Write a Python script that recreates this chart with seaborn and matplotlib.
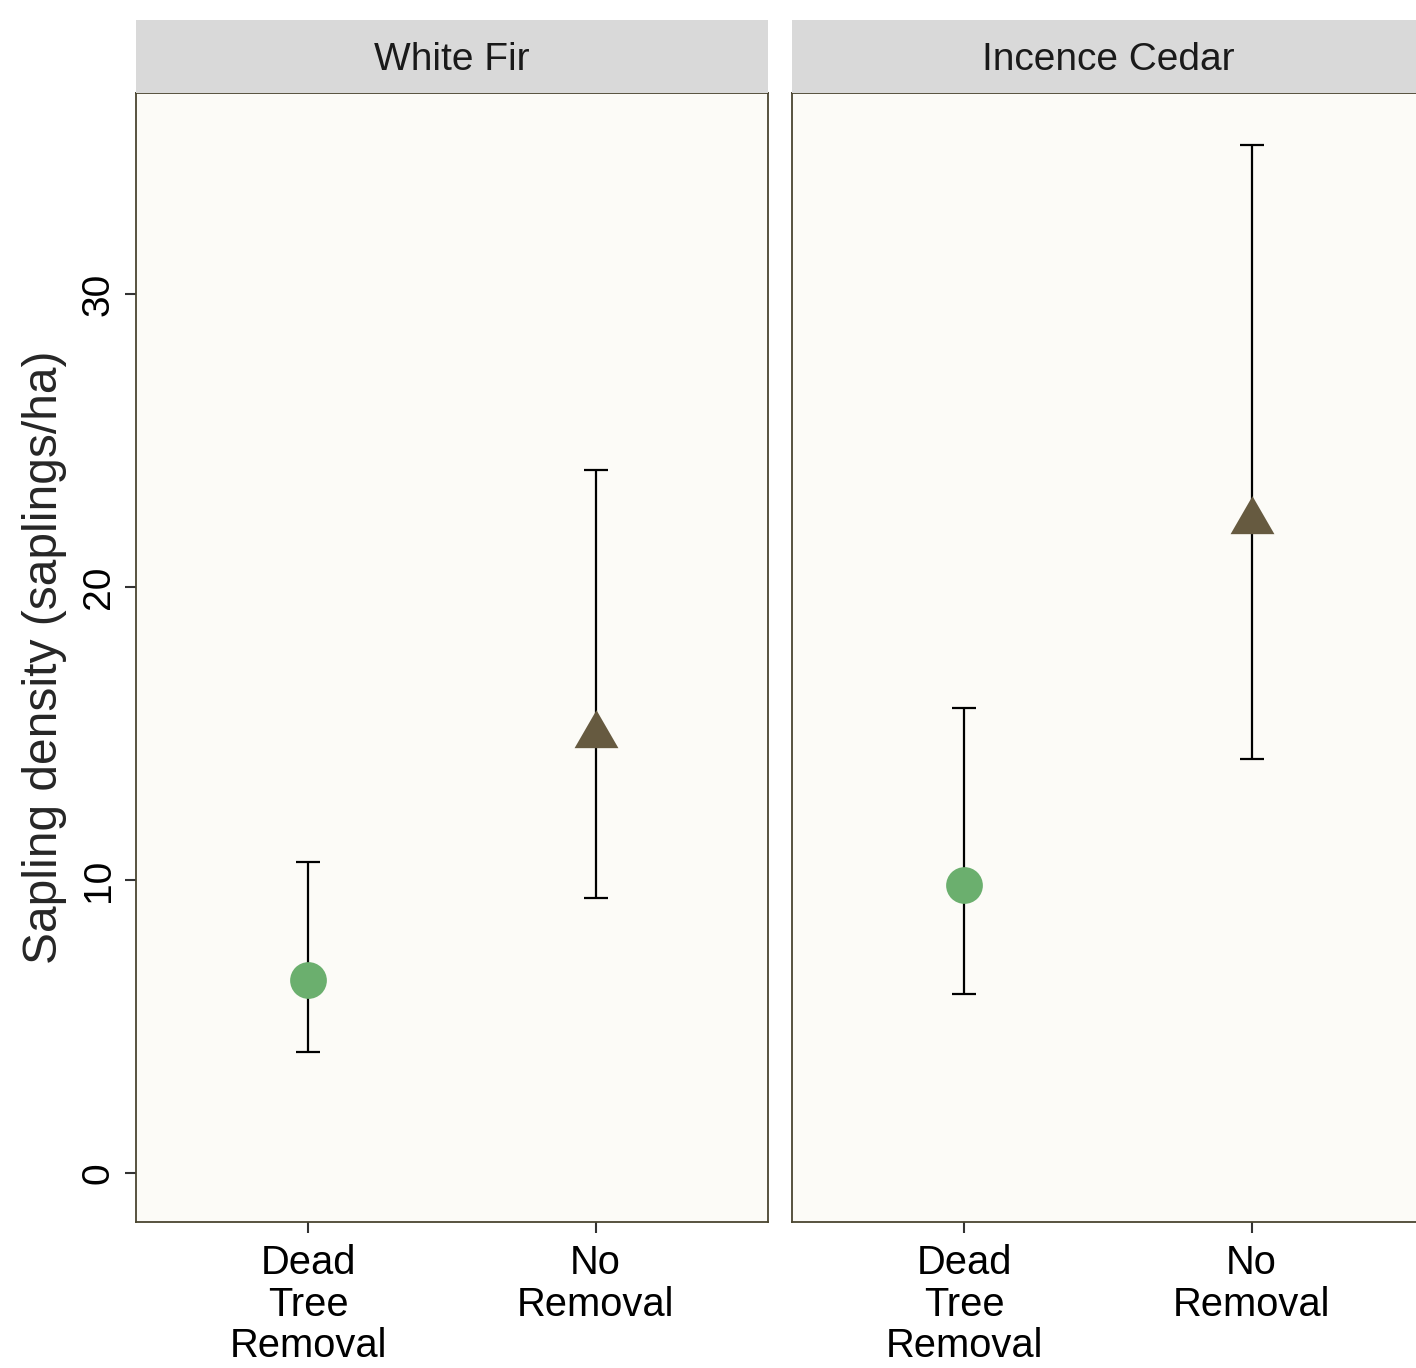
import matplotlib
matplotlib.use("Agg")
import matplotlib.pyplot as plt
from matplotlib.path import Path
import seaborn as sns
import pandas as pd

species = ["White Fir", "White Fir", "Incence Cedar", "Incence Cedar"]
treatment = ["Dead\nTree\nRemoval", "No\nRemoval", "Dead\nTree\nRemoval", "No\nRemoval"]
density = [6.6, 14.96, 9.83, 22.25]
lower = [4.13, 9.39, 6.11, 14.13]
upper = [10.61, 24.0, 15.87, 35.1]
panels = ["White Fir", "Incence Cedar"]
categories = ["Dead\nTree\nRemoval", "No\nRemoval"]
y_ticks = [0, 10, 20, 30]

df = pd.DataFrame({"species": species, "treatment": treatment, "density": density,
                   "lower": lower, "upper": upper})

sns.set_theme(style="white")
plt.rcParams['font.family'] = ['Liberation Sans', 'DejaVu Sans']

W, H = 1416, 1368
fig = plt.figure(figsize=(W / 100, H / 100), dpi=100)

# triangle centred on its centroid (like R's pch 17)
tri = Path([(0, 1), (-0.866, -0.5), (0.866, -0.5), (0, 1)],
           [Path.MOVETO, Path.LINETO, Path.LINETO, Path.CLOSEPOLY])

palette = {"Dead\nTree\nRemoval": "#6BAF6E", "No\nRemoval": "#665A40"}
markers = {"Dead\nTree\nRemoval": "o", "No\nRemoval": tri}
sizes = {"Dead\nTree\nRemoval": 700, "No\nRemoval": 1330}
border = "#4A4530"

panel_left = [136, 792]
pw = 632
top, bottom = 93, 1222
strip_top = 20

for i, sp in enumerate(panels):
    x0 = panel_left[i]
    ax = fig.add_axes([x0 / W, 1 - bottom / H, pw / W, (bottom - top) / H])
    ax.set_facecolor("#FCFBF7")
    sub = df[df.species == sp]
    xs = [categories.index(t) for t in sub.treatment]
    plot_df = sub.assign(pos=xs)
    ax.errorbar(plot_df.pos, plot_df.density,
                yerr=[plot_df.density - plot_df.lower, plot_df.upper - plot_df.density],
                fmt="none", ecolor="black", elinewidth=1.6, capsize=8.5,
                capthick=1.6, zorder=2)
    for t, mk in markers.items():
        d = plot_df[plot_df.treatment == t]
        sns.scatterplot(data=d, x="pos", y="density", color=palette[t], marker=mk,
                        s=sizes[t], linewidth=0, ax=ax, legend=False, zorder=3)
    ax.set_xlim(-0.6, 1.6)
    ax.set_ylim(-1.67, 36.86)
    ax.set_xticks([0, 1])
    ax.set_xticklabels(categories, fontsize=28.7, color="black", linespacing=1.12)
    ax.set_yticks(y_ticks)
    ax.set_xlabel("")
    ax.set_ylabel("")
    ax.tick_params(axis="both", length=8, width=1.5, color="#333333", direction="out",
                   bottom=True, left=True, pad=6)
    ax.tick_params(axis="x", pad=8)
    if i == 0:
        ax.set_yticklabels([str(v) for v in y_ticks], fontsize=28, rotation=90,
                           va="center", color="black")
        ax.set_ylabel("Sapling density (saplings/ha)", fontsize=34.5, labelpad=10)
    else:
        ax.tick_params(axis="y", left=False, labelleft=False)
    for s in ax.spines.values():
        s.set_color(border)
        s.set_linewidth(1.3)
    # strip
    sax = fig.add_axes([x0 / W, 1 - top / H, pw / W, (top - strip_top) / H])
    sax.set_facecolor("#D9D9D9")
    sax.set_xticks([])
    sax.set_yticks([])
    for s in sax.spines.values():
        s.set_visible(False)
    sax.text(0.5, 0.45, sp, ha="center", va="center", fontsize=28, color="#1A1A1A",
             transform=sax.transAxes)

fig.savefig("out.png", dpi=100, facecolor="white")
